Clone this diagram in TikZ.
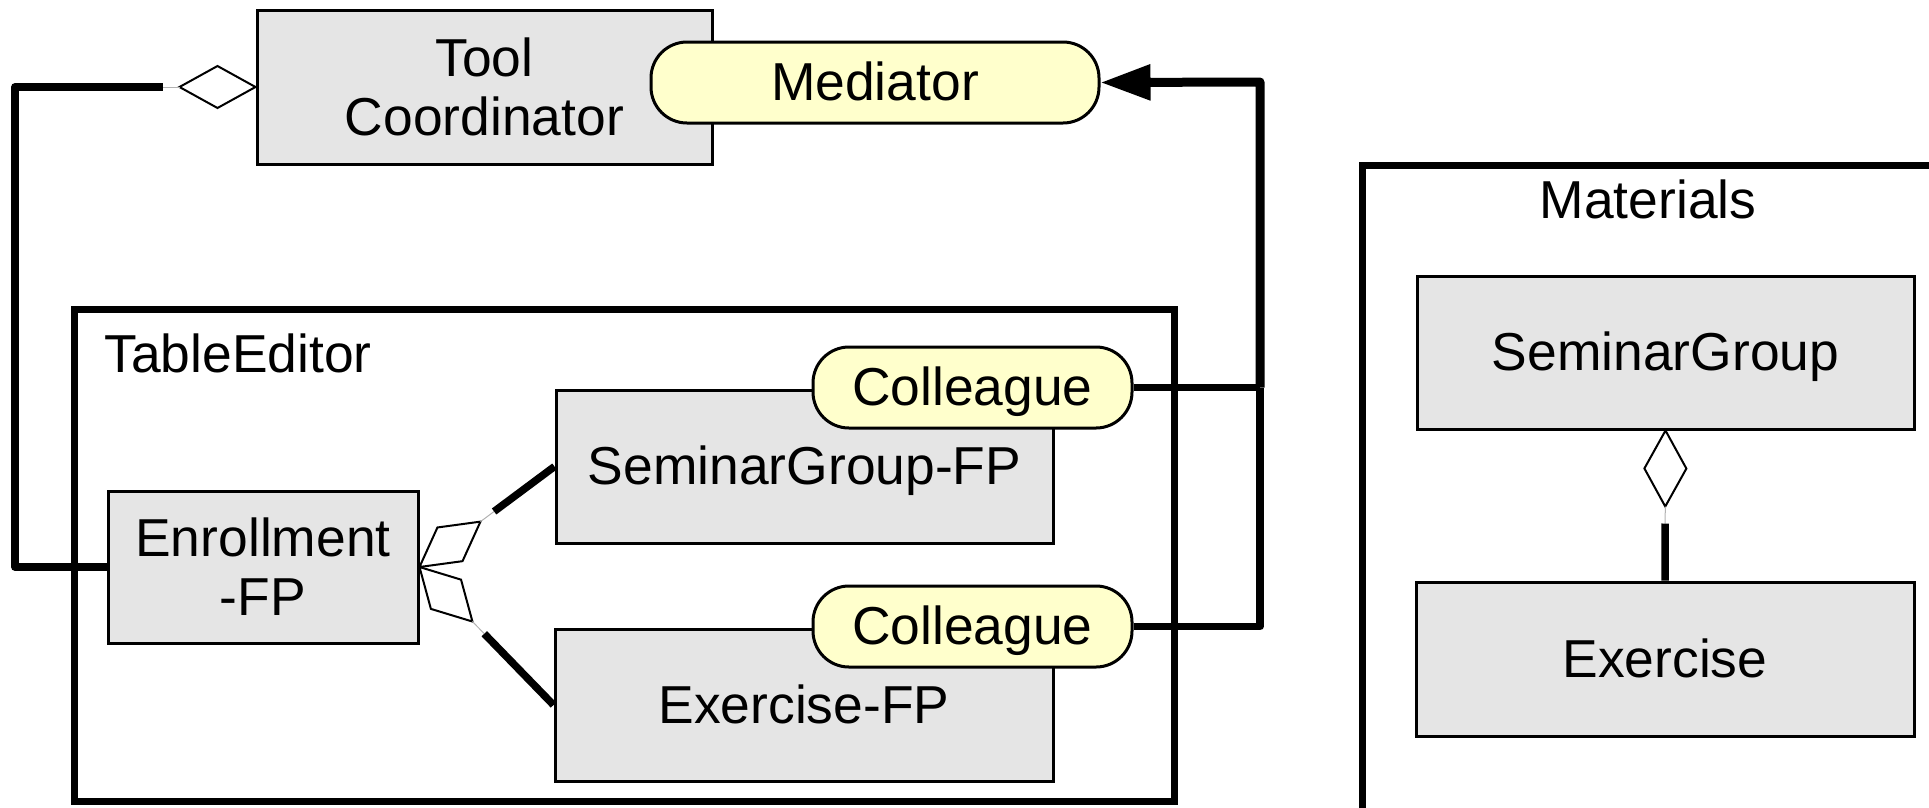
\documentclass[tikz,border=0pt]{standalone}
\usepackage{fontspec}
\setmainfont{Liberation Sans}
\usetikzlibrary{calc,arrows.meta}
\definecolor{boxgray}{HTML}{E5E5E5}
\definecolor{pillyellow}{HTML}{FFFFCC}

% open aggregation diamond: #1 whole end, #2 part end, #3 name prefix
\newcommand\aggrdiamond[3]{%
  \coordinate (#3m) at ($(#1)!38pt!(#2)$);
  \coordinate (#3far) at ($(#1)!76pt!(#2)$);
  \coordinate (#3gap) at ($(#1)!93pt!(#2)$);
  \draw[aggdiamond] (#1) -- ($(#3m)!21pt!90:(#2)$) -- (#3far)
    -- ($(#3m)!21pt!-90:(#2)$) -- cycle;
  \draw[gapline] (#3far) -- (#3gap);
}

\begin{document}
\begin{tikzpicture}[x=1pt,y=-1pt,
  every node/.style={font=\fontsize{53.4pt}{59pt}\selectfont},
  oneline/.style={text height=36.7pt, text depth=0pt},
  classbox/.style={draw, line width=3pt, fill=boxgray, inner sep=0pt, align=center},
  rolepill/.style={draw, line width=3pt, fill=pillyellow, rounded corners=36pt, inner sep=0pt, oneline},
  container/.style={draw, line width=7pt},
  conn/.style={line width=7.5pt, line join=round},
  gapline/.style={line width=1pt, gray!60},
  aggdiamond/.style={draw, line width=2pt, fill=white, line join=miter}]

\useasboundingbox (0,0) rectangle (1929,807);
\clip (0,0) rectangle (1929,807);

% package frames
\draw[container] (74,309) rectangle (1174,801);
\node[anchor=west] (tablelabel) at (101,353) {TableEditor};
\draw[container] (1362,165) rectangle (1990,860);
\node (matlabel) at (1648,199) {Materials};

% classes
\node[classbox, minimum width=455pt, minimum height=154pt] (tc) at (484.5,87) {Tool\\Coordinator};
\node[classbox, oneline, minimum width=497pt, minimum height=153pt] (sg) at (804.5,466.5) {SeminarGroup-FP};
\node[classbox, oneline, minimum width=498pt, minimum height=152pt] (ex) at (804,705) {Exercise-FP};
\node[classbox, minimum width=310pt, minimum height=152pt] (enr) at (263,567) {Enrollment\\-FP};
\node[classbox, oneline, minimum width=497pt, minimum height=153pt] (sgm) at (1665.5,352.5) {SeminarGroup};
\node[classbox, oneline, minimum width=498pt, minimum height=154pt] (exm) at (1665,659) {Exercise};

% roles
\node[rolepill, minimum width=448pt, minimum height=81pt] (med) at (875,82.5) {Mediator};
\node[rolepill, minimum width=319pt, minimum height=81pt] (col1) at (972.5,387.5) {Colleague};
\node[rolepill, minimum width=319pt, minimum height=81pt] (col2) at (972.5,626.5) {Colleague};

% aggregations
\coordinate (leftrail) at (15,87);
\aggrdiamond{tc.west}{leftrail}{dtc}
\draw[conn] (enr.west) -| (leftrail) -- (dtcgap);

\aggrdiamond{enr.east}{sg.west}{dsg}
\draw[conn] (dsggap) -- (sg.west);
\aggrdiamond{enr.east}{ex.west}{dex}
\draw[conn] (dexgap) -- (ex.west);

\aggrdiamond{sgm.south}{exm.north}{dm}
\draw[conn] (dmgap) -- (exm.north);

% colleague links to the mediator
\coordinate (rtop) at (1260,82);
\draw[conn] (col2.east) -| (rtop |- col1.east);
\draw[conn] (col1.east) -- (rtop |- col1.east);
\draw[conn, line width=9pt, -{Triangle[length=50pt,width=34pt]}]
  (rtop |- col1.east) -- (rtop) -- (med.east);

\end{tikzpicture}
\end{document}
